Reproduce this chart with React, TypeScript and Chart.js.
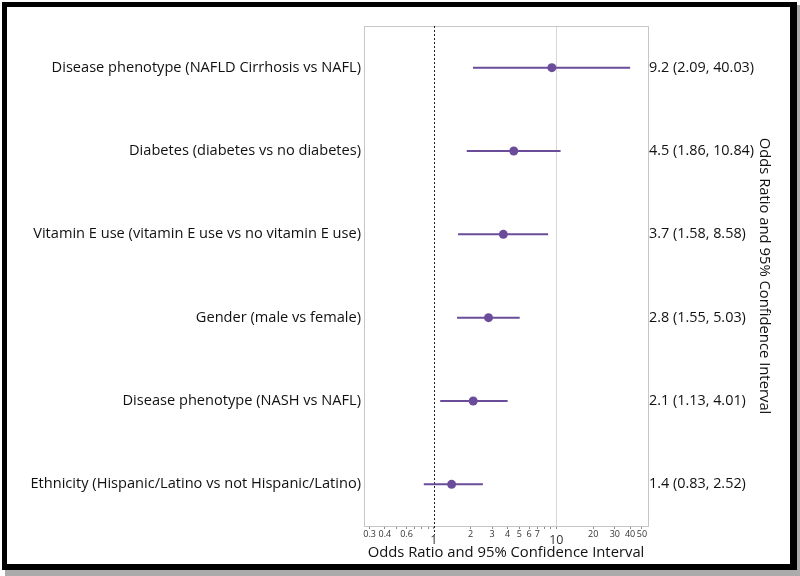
import React, { useEffect, useRef } from "react";
import { Chart, registerables } from "chart.js";

Chart.register(...registerables);

const categories = [
  "Disease phenotype (NAFLD Cirrhosis vs NAFL)",
  "Diabetes (diabetes vs no diabetes)",
  "Vitamin E use (vitamin E use vs no vitamin E use)",
  "Gender (male vs female)",
  "Disease phenotype (NASH vs NAFL)",
  "Ethnicity (Hispanic/Latino vs not Hispanic/Latino)",
];
const oddsRatios = [9.2, 4.5, 3.7, 2.8, 2.1, 1.4];
const lowerCI = [2.09, 1.86, 1.58, 1.55, 1.13, 0.83];
const upperCI = [40.03, 10.84, 8.58, 5.03, 4.01, 2.52];
const ciLabels = [
  "9.2 (2.09, 40.03)",
  "4.5 (1.86, 10.84)",
  "3.7 (1.58, 8.58)",
  "2.8 (1.55, 5.03)",
  "2.1 (1.13, 4.01)",
  "1.4 (0.83, 2.52)",
];
const xTickValues = [0.3, 0.4, 0.5, 0.6, 0.7, 0.8, 0.9, 1, 2, 3, 4, 5, 6, 7, 8, 9, 10, 20, 30, 40, 50];
const xTickLabels = ["0.3", "0.4", "", "0.6", "", "", "", "1", "2", "3", "4", "5", "6", "7", "", "", "10", "20", "30", "40", "50"];
const majorTicks = [1, 10];
const referenceValue = 1;
const gridValue = 10;
const axisTitle = "Odds Ratio and 95% Confidence Interval";

const PURPLE = "#6B4C9A";
const FONT = "'Open Sans', 'Noto Sans', sans-serif";

const framePlugin = {
  id: "frame",
  beforeDraw(chart: any) {
    const ctx = chart.ctx;
    ctx.save();
    ctx.fillStyle = "#ffffff";
    ctx.fillRect(0, 0, 800, 576);
    ctx.fillStyle = "#ababab";
    ctx.fillRect(5, 5, 795, 571);
    ctx.fillStyle = "#000000";
    ctx.fillRect(2, 2, 795, 568);
    ctx.fillStyle = "#ffffff";
    ctx.fillRect(7, 7, 783, 557);
    ctx.restore();
  },
  beforeDatasetsDraw(chart: any) {
    const { ctx, chartArea } = chart;
    const xs = chart.scales.x;
    ctx.save();
    ctx.strokeStyle = "#c6c6c6";
    ctx.lineWidth = 1;
    ctx.strokeRect(
      Math.round(chartArea.left) + 0.5,
      Math.round(chartArea.top) + 0.5,
      Math.round(chartArea.right - chartArea.left),
      Math.round(chartArea.bottom - chartArea.top)
    );
    const px = Math.round(xs.getPixelForValue(referenceValue)) + 0.5;
    ctx.strokeStyle = "#222222";
    ctx.setLineDash([2, 2]);
    ctx.beginPath();
    ctx.moveTo(px, chartArea.top);
    ctx.lineTo(px, chartArea.bottom + 9);
    ctx.stroke();
    ctx.restore();
  },
};

export default function App() {
  const ref = useRef<HTMLCanvasElement | null>(null);

  useEffect(() => {
    if (!ref.current) return;
    const ciSets = categories.map((c, i) => ({
      type: "scatter" as const,
      data: [
        { x: lowerCI[i], y: c },
        { x: upperCI[i], y: c },
      ],
      showLine: true,
      borderColor: PURPLE,
      borderWidth: 2,
      pointRadius: 0,
      yAxisID: "y",
    }));
    const pointSet = {
      type: "scatter" as const,
      data: categories.map((c, i) => ({ x: oddsRatios[i], y: c })),
      showLine: false,
      pointRadius: 4.5,
      pointBackgroundColor: PURPLE,
      pointBorderColor: PURPLE,
      pointBorderWidth: 0,
      yAxisID: "y",
    };
    const chart = new Chart(ref.current, {
      type: "scatter",
      data: { datasets: [...ciSets, pointSet] as any },
      plugins: [framePlugin],
      options: {
        animation: false,
        responsive: false,
        events: [],
        layout: { padding: { top: 26, left: 0, right: 27, bottom: 0 } },
        plugins: { legend: { display: false }, tooltip: { enabled: false } },
        scales: {
          x: {
            type: "logarithmic",
            position: "bottom",
            min: 0.27,
            max: 56,
            bounds: "data",
            afterBuildTicks: (s: any) => {
              s.ticks = xTickValues.map((v) => ({ value: v, major: majorTicks.includes(v) }));
            },
            afterFit: (s: any) => {
              s.height = 50;
            },
            border: { display: false },
            grid: {
              drawOnChartArea: true,
              color: (ctx: any) =>
                ctx.tick && ctx.tick.value === gridValue ? "#d6d6d6" : "rgba(0,0,0,0)",
              tickColor: "#8a8a8a",
              tickLength: 3,
              tickWidth: 1,
            },
            ticks: {
              autoSkip: false,
              maxRotation: 0,
              minRotation: 0,
              padding: 0,
              color: "#333333",
              callback: (_v: any, i: number) => xTickLabels[i],
              font: (ctx: any) =>
                ctx.tick && majorTicks.includes(ctx.tick.value)
                  ? { family: FONT, size: 12.5, lineHeight: 1.75 }
                  : { family: FONT, size: 9, lineHeight: 1.1 },
            },
            title: {
              display: true,
              text: axisTitle,
              color: "#111111",
              font: { family: FONT, size: 14.8, lineHeight: 1.2 },
              padding: { top: 0, bottom: 14 },
            },
          },
          y: {
            type: "category",
            position: "left",
            labels: categories,
            offset: true,
            afterFit: (s: any) => {
              s.width = 364;
            },
            border: { display: false },
            grid: { display: false, drawTicks: false },
            ticks: {
              padding: 3,
              color: "#111111",
              font: { family: FONT, size: 14.6 },
            },
          },
          y2: {
            type: "category",
            position: "right",
            labels: ciLabels,
            offset: true,
            afterFit: (s: any) => {
              s.width = 125;
            },
            border: { display: false },
            grid: { display: false, drawTicks: false },
            ticks: {
              padding: 1,
              color: "#111111",
              font: { family: FONT, size: 14.4 },
            },
            title: {
              display: true,
              text: axisTitle,
              color: "#111111",
              font: { family: FONT, size: 14.8, lineHeight: 1.2 },
              padding: { top: 0, bottom: 0 },
            },
          },
        },
      } as any,
    });
    return () => chart.destroy();
  }, []);

  return (
    <div style={{ position: "absolute", left: 0, top: 0, width: 800, height: 576 }}>
      <canvas ref={ref} width={800} height={576} style={{ width: 800, height: 576 }} />
    </div>
  );
}
